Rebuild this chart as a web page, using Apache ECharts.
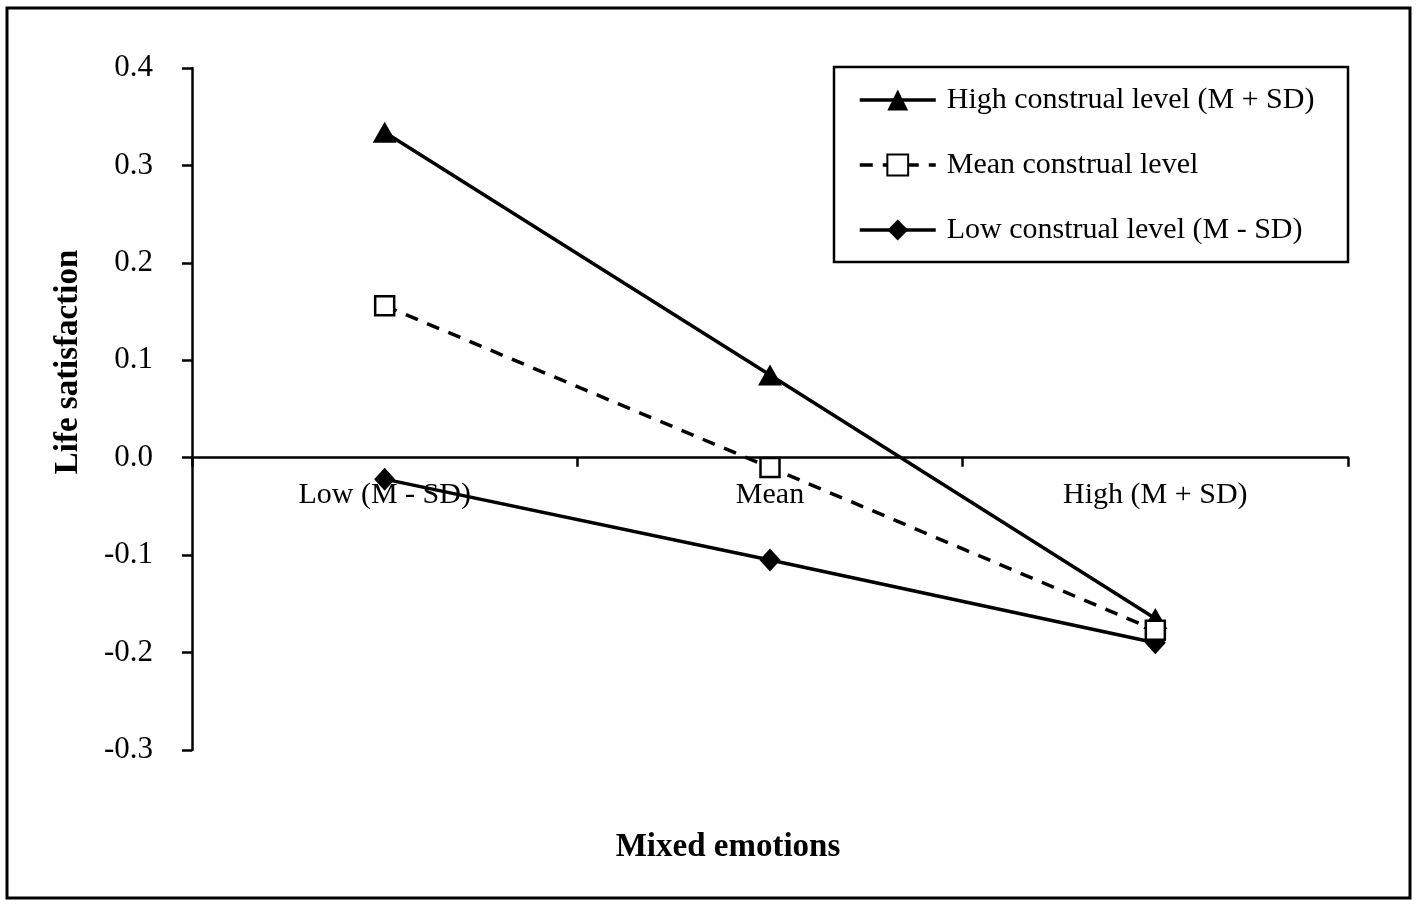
<!DOCTYPE html>
<html>
<head>
<meta charset="utf-8">
<script src="https://cdn.jsdelivr.net/npm/echarts@6/dist/echarts.min.js"></script>
<style>
html,body{margin:0;padding:0;background:#fff;}
#chart{width:1418px;height:906px;}
</style>
</head>
<body>
<div id="chart"></div>
<script>
const categories = ['Low (M - SD)', 'Mean', 'High (M + SD)'];
const seriesNames = ['High construal level (M + SD)', 'Mean construal level', 'Low construal level (M - SD)'];
const highValues = [0.334, 0.085, -0.165];
const meanValues = [0.156, -0.010, -0.177];
const lowValues = [-0.022, -0.105, -0.190];
const yTicks = { min: -0.3, max: 0.4, interval: 0.1 };
const xTitle = 'Mixed emotions';
const yTitle = 'Life satisfaction';

const FONT = '"Liberation Serif", "Times New Roman", serif';
const GRID = { left: 192, right: 70, top: 68, bottom: 156 };
const plotH = 906 - GRID.top - GRID.bottom;
// place the category axis on the zero line of the value axis
const zeroOffset = -plotH * (0 - yTicks.min) / (yTicks.max - yTicks.min);

const chart = echarts.init(document.getElementById('chart'));
chart.setOption({
  backgroundColor: '#fff',
  animation: false,
  textStyle: { fontFamily: FONT, color: '#000' },
  grid: GRID,
  graphic: [
    { type: 'rect', shape: { x: 7, y: 8, width: 1403, height: 890 }, style: { fill: 'none', stroke: '#000', lineWidth: 3 }, silent: true },
    { type: 'rect', shape: { x: 834, y: 67, width: 514, height: 195 }, style: { fill: 'none', stroke: '#000', lineWidth: 2.5 }, silent: true, z: 10 },
    { type: 'text', x: 728, y: 847, style: { text: xTitle, font: 'bold 33px ' + FONT, fill: '#000', align: 'center', verticalAlign: 'middle' }, silent: true },
    { type: 'text', x: 68, y: 362, rotation: Math.PI / 2, style: { text: yTitle, font: 'bold 33px ' + FONT, fill: '#000', align: 'center', verticalAlign: 'middle' }, silent: true }
  ],
  legend: {
    orient: 'vertical',
    left: 858, top: 85,
    padding: 0,
    itemWidth: 76, itemHeight: 26, itemGap: 35,
    lineStyle: { width: 3.5 },
    textStyle: { fontFamily: FONT, fontSize: 30, color: '#000', padding: [0, 0, 0, 6] },
    data: seriesNames
  },
  xAxis: {
    type: 'category',
    data: categories,
    boundaryGap: true,
    offset: zeroOffset,
    axisLine: { onZero: false, lineStyle: { color: '#000', width: 2.5 } },
    axisTick: { show: true, length: 9, lineStyle: { color: '#000', width: 2.5 } },
    axisLabel: { fontFamily: FONT, fontSize: 30, color: '#000', margin: 22 },
    splitLine: { show: false }
  },
  yAxis: {
    type: 'value',
    min: yTicks.min, max: yTicks.max, interval: yTicks.interval,
    axisLine: { show: true, onZero: false, lineStyle: { color: '#000', width: 2.5 } },
    axisTick: { show: true, length: 10, lineStyle: { color: '#000', width: 2.5 } },
    axisLabel: { fontFamily: FONT, fontSize: 31, color: '#000', margin: 39, formatter: v => v.toFixed(1) },
    splitLine: { show: false }
  },
  series: [
    {
      name: seriesNames[0], type: 'line', data: highValues,
      symbol: 'triangle', symbolSize: [24, 21],
      lineStyle: { color: '#000', width: 3.5 },
      itemStyle: { color: '#000' }, z: 3
    },
    {
      name: seriesNames[1], type: 'line', data: meanValues,
      symbol: 'rect', symbolSize: 19,
      lineStyle: { color: '#000', width: 3.5, type: [13, 10] },
      itemStyle: { color: '#fff', borderColor: '#000', borderWidth: 2.5 }, z: 4
    },
    {
      name: seriesNames[2], type: 'line', data: lowValues,
      symbol: 'diamond', symbolSize: [21, 23],
      lineStyle: { color: '#000', width: 3.5 },
      itemStyle: { color: '#000' }, z: 2
    }
  ]
});
</script>
</body>
</html>
